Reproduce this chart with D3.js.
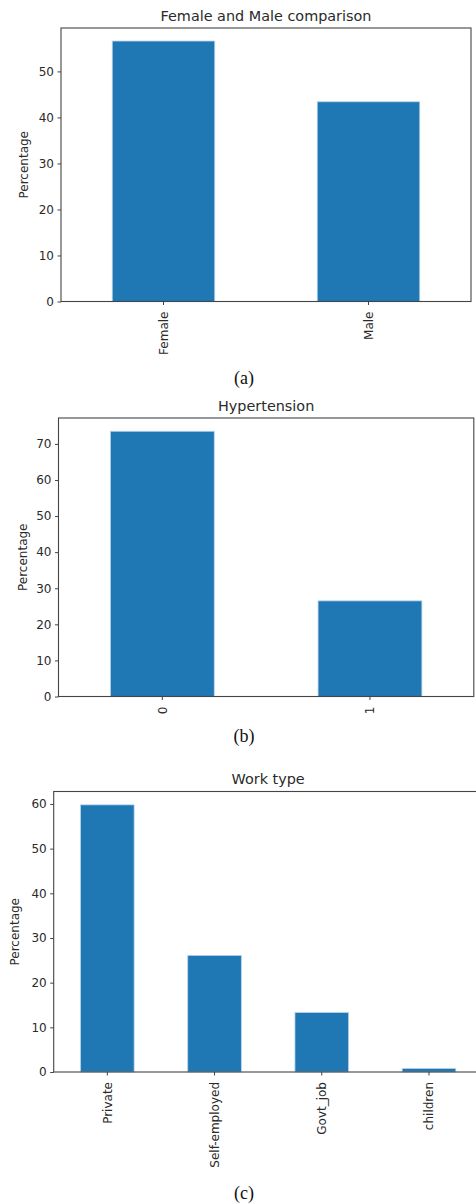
<!DOCTYPE html>
<html>
<head>
<meta charset="utf-8">
<script src="https://cdn.jsdelivr.net/npm/d3@7"></script>
<style>
  html, body { margin: 0; padding: 0; background: #fff; }
  svg { display: block; }
  text { font-family: "DejaVu Sans", sans-serif; }
</style>
</head>
<body>
<svg id="chart" width="476" height="1204"></svg>
<script>
// ---- data ----
const genderCategories = ["Female", "Male"];
const genderValues = [56.6, 43.4];
const genderTicks = [0, 10, 20, 30, 40, 50];

const hypertensionCategories = ["0", "1"];
const hypertensionValues = [73.5, 26.5];
const hypertensionTicks = [0, 10, 20, 30, 40, 50, 60, 70];

const workCategories = ["Private", "Self-employed", "Govt_job", "children"];
const workValues = [59.8, 26.1, 13.3, 0.8];
const workTicks = [0, 10, 20, 30, 40, 50, 60];

const titles = ["Female and Male comparison", "Hypertension", "Work type"];
const captions = ["(a)", "(b)", "(c)"];

// ---- drawing ----
const svg = d3.select("#chart");
const barColor = "#1f77b4";
const spineColor = "#444";
const textColor = "#2a2a2a";

function panel(cfg) {
  const { cats, vals, ticks, title, caption, box, ylabelX, captionY } = cfg;
  const g = svg.append("g");
  const x = d3.scaleBand().domain(cats).range([box.left, box.right])
    .paddingInner(0.5).paddingOuter(0.25);
  const y = d3.scaleLinear().domain([0, d3.max(vals) * 1.05]).range([box.bottom, box.top]);

  // bars
  g.selectAll("rect.bar").data(cats).join("rect")
    .attr("class", "bar")
    .attr("x", d => x(d))
    .attr("width", x.bandwidth())
    .attr("y", (d, i) => y(vals[i]))
    .attr("height", (d, i) => y(0) - y(vals[i]))
    .attr("fill", barColor)
    .attr("stroke", "#b7d3ea")
    .attr("stroke-width", 0.8);

  // spines
  g.append("rect")
    .attr("x", box.left).attr("y", box.top)
    .attr("width", box.right - box.left).attr("height", box.bottom - box.top)
    .attr("fill", "none").attr("stroke", spineColor).attr("stroke-width", 1.1);

  // y axis
  const yAxis = g.append("g").attr("transform", `translate(${box.left},0)`)
    .call(d3.axisLeft(y).tickValues(ticks).tickSize(3.5).tickPadding(3.5).tickFormat(d3.format("d")));
  yAxis.select(".domain").remove();
  yAxis.selectAll(".tick line").attr("stroke", spineColor);
  yAxis.selectAll(".tick text").attr("fill", textColor).style("font-size", "12px")
    .style("font-family", "'DejaVu Sans', sans-serif");

  // x axis (ticks at bar centers, rotated labels)
  const xTicks = g.append("g");
  xTicks.selectAll("line").data(cats).join("line")
    .attr("x1", d => x(d) + x.bandwidth() / 2).attr("x2", d => x(d) + x.bandwidth() / 2)
    .attr("y1", box.bottom).attr("y2", box.bottom + 3.5)
    .attr("stroke", spineColor);
  xTicks.selectAll("text").data(cats).join("text")
    .attr("transform", d => `translate(${x(d) + x.bandwidth() / 2},${box.bottom + 10}) rotate(-90)`)
    .attr("text-anchor", "end").attr("dy", "0.35em")
    .attr("fill", textColor).style("font-size", "12px")
    .text(d => d);

  // y label
  g.append("text")
    .attr("transform", `translate(${ylabelX},${(box.top + box.bottom) / 2}) rotate(-90)`)
    .attr("text-anchor", "middle").attr("dy", "0.35em")
    .attr("fill", textColor).style("font-size", "12px")
    .text("Percentage");

  // title
  g.append("text")
    .attr("x", (box.left + box.right) / 2).attr("y", box.top - 7.5)
    .attr("text-anchor", "middle")
    .attr("fill", textColor).style("font-size", "14.4px")
    .text(title);

  // caption
  g.append("text")
    .attr("x", 244).attr("y", captionY)
    .attr("text-anchor", "middle")
    .attr("fill", "#111")
    .style("font-family", "'Liberation Serif', 'Times New Roman', serif")
    .style("font-size", "18px")
    .text(caption);
}

panel({ cats: genderCategories, vals: genderValues, ticks: genderTicks, title: titles[0], caption: captions[0],
  box: { left: 61, right: 471, top: 28, bottom: 301.5 }, ylabelX: 24, captionY: 384 });
panel({ cats: hypertensionCategories, vals: hypertensionValues, ticks: hypertensionTicks, title: titles[1], caption: captions[1],
  box: { left: 58.5, right: 473.8, top: 418, bottom: 696.5 }, ylabelX: 22.5, captionY: 742 });
panel({ cats: workCategories, vals: workValues, ticks: workTicks, title: titles[2], caption: captions[2],
  box: { left: 53.7, right: 482.6, top: 791.5, bottom: 1072 }, ylabelX: 15, captionY: 1199 });
</script>
</body>
</html>
